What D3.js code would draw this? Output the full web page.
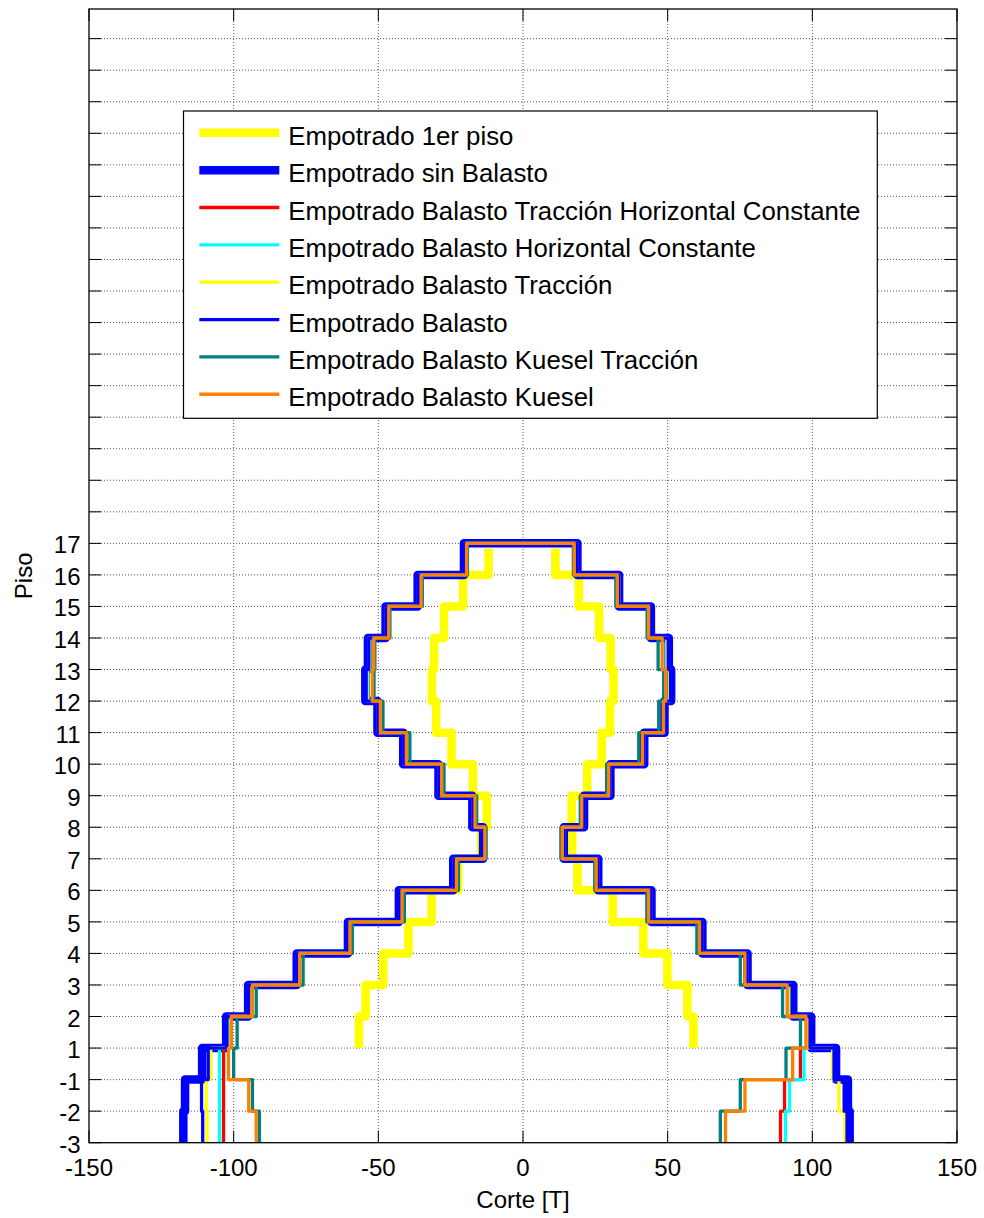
<!DOCTYPE html>
<html><head><meta charset="utf-8">
<script src="https://cdn.jsdelivr.net/npm/d3@7"></script>
<style>body{margin:0;background:#fff} svg{display:block} text{font-family:"Liberation Sans",Arial,Helvetica,sans-serif;fill:#000}</style>
</head><body><svg id="c" width="984" height="1218"></svg>
<script>
// Y tick labels (story levels), index 0 = "-3"
const yTickLabels = ["-3","-2","-1","1","2","3","4","5","6","7","8","9","10","11","12","13","14","15","16","17"];
const xTicks = [-150,-100,-50,0,50,100,150];
const xDomain = [-150,150];
const yDomain = [0,35.94];
const yGridCount = 35;

// Story values bottom to top (stories -3..-2, -2..-1, -1..1, 1..2, ... 16..17)
const sinBalastoNeg = [-117.4,-116.8,-110.9,-102.6,-95,-78.2,-60.5,-42.9,-24.1,-13.8,-17.5,-29.2,-41.4,-50.3,-54.5,-53.6,-47.5,-36.4,-20.4];
const sinBalastoPos = [112.9,112.3,108.2,99.6,93.4,77.6,62,44.4,26,14.1,21.1,30.2,41.9,48.9,51.2,50.4,44.2,33.2,18.8];

const tracHorNeg = [-103.5,-103.5,-103.5,-101.6,-94.2,-77.6,-60,-42.3,-23.6,-13.5,-17,-28.6,-40.8,-49.8,-53.5,-52.8,-46.9,-35.8,-19.9];
const tracHorPos = [89,90.4,95.9,98.4,91.8,77,61.5,43.9,25.6,13.8,20.7,29.8,41.5,48.6,50.4,49.5,43.8,32.9,18.3];

const horNeg = [-104.9,-104.9,-104.9,-101.8,-94.3,-77.7,-60.1,-42.4,-23.7,-13.5,-17.1,-28.7,-40.9,-49.9,-53.6,-52.9,-47,-35.9,-20];
const horPos = [90.7,92.1,97.1,98.3,92,77.1,61.6,44,25.7,13.9,20.8,29.9,41.6,48.7,50.5,49.6,43.9,33,18.4];

const tracNeg = [-109.2,-109.5,-107.9,-102,-94.5,-77.9,-60.2,-42.6,-23.8,-13.6,-17.2,-28.9,-41.1,-50,-54,-53.2,-47.2,-36.1,-20.1];
const tracPos = [111.3,109.2,107,98.8,92.6,77.3,61.7,44.1,25.8,14,20.9,30,41.7,48.7,50.8,50,44,33.1,18.6];

const balastoNeg = [-110.7,-111.1,-108.8,-102.3,-94.8,-78,-60.3,-42.7,-23.9,-13.7,-17.3,-29,-41.2,-50.1,-54.2,-53.3,-47.3,-36.2,-20.2];
const balastoPos = [112,111,107.5,99.2,93,77.4,61.8,44.2,25.9,14,21,30.1,41.8,48.8,51,50.2,44.1,33.1,18.7];

const kueselTracNeg = [-91.1,-93.5,-100,-98.8,-92.2,-76,-59,-41,-22.3,-12.8,-16,-27.3,-39.1,-48.4,-51.5,-51.2,-46,-34.8,-19.2];
const kueselTracPos = [68.2,75.1,90.9,95.9,89.7,75.1,60.1,42.8,24.8,13.2,19.8,28.9,40,46.9,48.6,46.7,42.9,32.1,17.4];

const kueselNeg = [-92.2,-94.8,-101.8,-100.8,-93.5,-77.2,-59.8,-41.8,-23,-13.2,-16.6,-28.1,-40.3,-49.3,-52.1,-51.6,-46.4,-35.2,-19.5];
const kueselPos = [70,76.7,93.2,97.8,91.3,76.7,61,43.4,25.3,13.6,20.3,29.6,41.3,48.5,49.3,48.1,43.4,32.6,17.7];

// "Empotrado 1er piso": stories 1..2 up to 16..17 (starts at index 3), top end slightly below 17
const piso1Start = 3;
const piso1Top = 18.84;
const piso1Neg = [-56.7,-54.4,-48.3,-39.6,-31.6,-22.4,-14.5,-12.5,-17.3,-24.7,-30,-31.5,-30.7,-27.3,-20.7,-11.9];
const piso1Pos = [58.9,56.8,49.9,41.6,31,18.8,17,16.8,22.2,27.2,30.1,31.3,30.3,26.3,19.3,11.2];

const legendNames = ["Empotrado 1er piso","Empotrado sin Balasto","Empotrado Balasto Tracción Horizontal Constante","Empotrado Balasto Horizontal Constante","Empotrado Balasto Tracción","Empotrado Balasto","Empotrado Balasto Kuesel Tracción","Empotrado Balasto Kuesel"];
const legendColors = ["#ffff00","#0000ff","#ff0000","#00ffff","#ffff00","#0000ff","#008080","#ff8000"];
const legendWidths = [8.5,8.5,3.3,3.3,3.3,3.3,3.3,3.3];

const xLabel = "Corte [T]";
const yLabel = "Piso";

// ---------------- drawing ----------------
const svg = d3.select("#c");
const L = 89, R = 957, T = 9, B = 1142.7;
const x = d3.scaleLinear().domain(xDomain).range([L, R]);
const y = d3.scaleLinear().domain(yDomain).range([B, T]);

svg.append("rect").attr("width",984).attr("height",1218).attr("fill","#fff");

// grid
const grid = svg.append("g").attr("stroke","#444").attr("stroke-width",0.9).attr("stroke-dasharray","1,2");
xTicks.slice(1,-1).forEach(t => grid.append("line").attr("x1",x(t)).attr("x2",x(t)).attr("y1",T).attr("y2",B));
d3.range(1, yGridCount+1).forEach(i => grid.append("line").attr("x1",L).attr("x2",R).attr("y1",y(i)).attr("y2",y(i)));

// clip
svg.append("clipPath").attr("id","clip").append("rect").attr("x",L).attr("y",T).attr("width",R-L).attr("height",B-T);

const line = d3.line().x(d => x(d[0])).y(d => y(d[1]));

function envelope(neg, pos) {
  const pts = [];
  neg.forEach((v,i) => { pts.push([v,i]); pts.push([v,i+1]); });
  for (let i = pos.length-1; i >= 0; i--) { pts.push([pos[i],i+1]); pts.push([pos[i],i]); }
  return pts;
}
function halfStairs(vals, start, top) {
  const pts = [];
  vals.forEach((v,i) => {
    const y0 = start + i;
    const y1 = (i === vals.length-1) ? top : y0 + 1;
    pts.push([v,y0]); pts.push([v,y1]);
  });
  return pts;
}

const plot = svg.append("g").attr("clip-path","url(#clip)").attr("fill","none")
  .attr("stroke-linejoin","round").attr("stroke-linecap","butt");

// Empotrado 1er piso (two branches)
[piso1Neg, piso1Pos].forEach(vals => {
  plot.append("path").attr("d", line(halfStairs(vals, piso1Start, piso1Top)))
    .attr("stroke", legendColors[0]).attr("stroke-width", legendWidths[0]);
});

const envSeries = [
  [sinBalastoNeg, sinBalastoPos],
  [tracHorNeg, tracHorPos],
  [horNeg, horPos],
  [tracNeg, tracPos],
  [balastoNeg, balastoPos],
  [kueselTracNeg, kueselTracPos],
  [kueselNeg, kueselPos]
];
envSeries.forEach((s, k) => {
  plot.append("path").attr("d", line(envelope(s[0], s[1])))
    .attr("stroke", legendColors[k+1]).attr("stroke-width", legendWidths[k+1]);
});

// axes box
svg.append("rect").attr("x",L).attr("y",T).attr("width",R-L).attr("height",B-T)
  .attr("fill","none").attr("stroke","#000").attr("stroke-width",1.3);

// ticks
const tk = svg.append("g").attr("stroke","#000").attr("stroke-width",1);
const tl = 12;
d3.range(0, yGridCount+1).forEach(i => {
  tk.append("line").attr("x1",L).attr("x2",L+tl).attr("y1",y(i)).attr("y2",y(i));
  tk.append("line").attr("x1",R).attr("x2",R-tl).attr("y1",y(i)).attr("y2",y(i));
});
xTicks.forEach(t => {
  tk.append("line").attr("x1",x(t)).attr("x2",x(t)).attr("y1",B).attr("y2",B-tl);
  tk.append("line").attr("x1",x(t)).attr("x2",x(t)).attr("y1",T).attr("y2",T+tl);
});

// tick labels
yTickLabels.forEach((lab,i) => {
  svg.append("text").attr("x",80.5).attr("y",y(i)+10).attr("text-anchor","end")
    .attr("font-size",24).text(lab);
});
xTicks.forEach(t => {
  svg.append("text").attr("x",x(t)).attr("y",B+33.5).attr("text-anchor","middle")
    .attr("font-size",24).text(t);
});
svg.append("text").attr("x",(L+R)/2).attr("y",1208).attr("text-anchor","middle")
  .attr("font-size",24).text(xLabel);
svg.append("text").attr("transform",`translate(31.5,${(T+B)/2}) rotate(-90)`)
  .attr("text-anchor","middle").attr("font-size",24).text(yLabel);

// legend
const lg = svg.append("g");
lg.append("rect").attr("x",183.5).attr("y",111).attr("width",877.3-183.5).attr("height",418.3-111)
  .attr("fill","#fff").attr("stroke","#000").attr("stroke-width",1.2);
legendNames.forEach((n,i) => {
  const cy = 132.8 + i*37.35;
  lg.append("line").attr("x1",199.3).attr("x2",279.3).attr("y1",cy).attr("y2",cy)
    .attr("stroke",legendColors[i]).attr("stroke-width",legendWidths[i]);
  lg.append("text").attr("x",288.3).attr("y",cy+12).attr("font-size",25.8).text(n);
});
</script></body></html>
